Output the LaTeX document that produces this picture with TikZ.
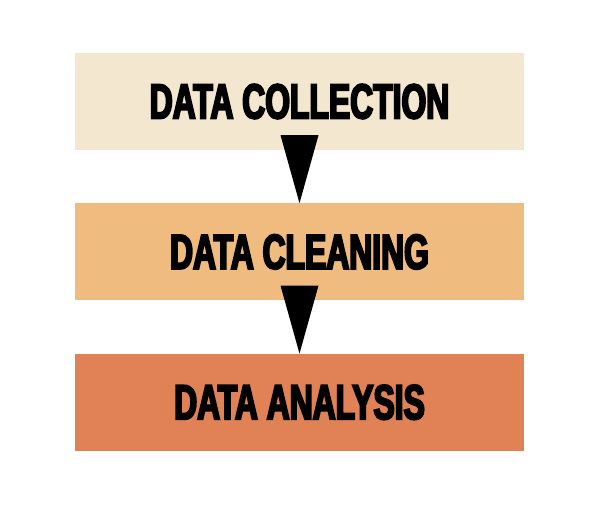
\documentclass[tikz,border=0pt]{standalone}
\usepackage{fontspec}
\newfontfamily\stagefont{Liberation Sans}[FakeStretch=0.65,FakeBold=4]
\usetikzlibrary{positioning}
\definecolor{collectcol}{RGB}{244,231,208}
\definecolor{cleancol}{RGB}{240,187,126}
\definecolor{analysiscol}{RGB}{224,129,86}
\tikzset{
    stagebox/.style={minimum width=449pt, minimum height=97pt, inner sep=0pt,
        font=\stagefont\bfseries\fontsize{49}{49}\selectfont},
    pointer/.style={fill=black}
}
\begin{document}
\begin{tikzpicture}[x=1pt,y=1pt]
        \useasboundingbox (0,0) rectangle (600,-504);
        \node[stagebox, fill=collectcol] (collect) at (299.5,-101.5) {DATA COLLECTION};
        \node[stagebox, fill=cleancol, below=53pt of collect] (clean) {DATA CLEANING};
        \node[stagebox, fill=analysiscol, below=53pt of clean] (analysis) {DATA ANALYSIS};

        \fill[pointer] ([shift={(-19pt,15pt)}]collect.south) -- ([shift={(19pt,15pt)}]collect.south) -- (clean.north) -- cycle;
        \fill[pointer] ([shift={(-19pt,15pt)}]clean.south) -- ([shift={(19pt,15pt)}]clean.south) -- (analysis.north) -- cycle;
    \end{tikzpicture}
\end{document}
